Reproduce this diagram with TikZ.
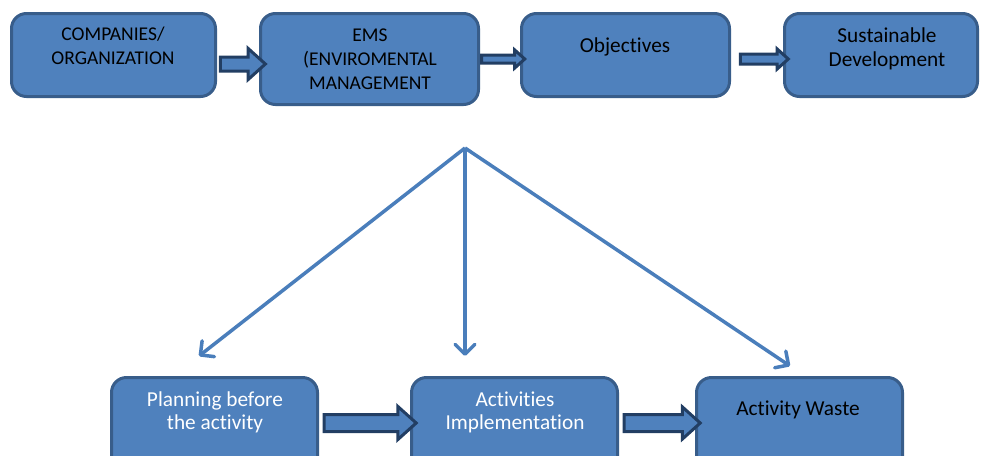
\documentclass[tikz,border=0pt]{standalone}
\usepackage{fontspec}
\setmainfont{Carlito}[RawFeature={-liga;-clig}]
\usetikzlibrary{shapes.arrows,arrows.meta}
\definecolor{boxfill}{HTML}{4F81BD}
\definecolor{boxline}{HTML}{385D8A}
\definecolor{arrline}{HTML}{223E63}
\definecolor{fanline}{HTML}{4A7EBB}
\tikzset{
  box/.style={draw=boxline, fill=boxfill, line width=3pt, rounded corners=15pt,
    minimum width=204pt, minimum height=83pt, inner sep=0pt},
  capstxt/.style={align=center, font=\fontsize{19.5}{24}\selectfont, inner sep=0pt},
  toptxt/.style={align=center, font=\fontsize{21.3}{24}\selectfont, inner sep=0pt},
  bottxt/.style={align=center, font=\fontsize{21.3}{23}\selectfont, inner sep=0pt},
  blockarrow/.style={single arrow, draw=arrline, fill=boxfill, line width=3pt,
    inner xsep=0pt, single arrow tip angle=84, outer sep=0pt},
  fan/.style={draw=fanline, line width=3.5pt,
    -{Straight Barb[length=10pt,width=20pt,line cap=round,line join=round]}},
}
\begin{document}
\begin{tikzpicture}[x=1pt,y=-1pt]
\useasboundingbox (0,0) rectangle (981,455);
\clip (0,0) rectangle (981,455);

% top row
\node[box] (b1) at (113.5,55) {};
\node[box, minimum width=218pt, minimum height=91pt] (b2) at (369.5,59) {};
\node[box, minimum width=208pt] (b3) at (625.5,55) {};
\node[box, minimum width=193pt] (b4) at (881,55) {};

\node[capstxt] (t1) at (113,46) {COMPANIES/\\ORGANIZATION};
\node[capstxt] (t2) at (370,59) {EMS\\(ENVIROMENTAL\\MANAGEMENT};
\node[toptxt] (t3) at (625,47) {Objectives};
\node[toptxt] (t4) at (887,49) {Sustainable\\Development};

% bottom row
\node[box, minimum width=206pt, minimum height=107pt] (b5) at (214.5,431) {};
\node[box, minimum width=206pt, minimum height=107pt] (b6) at (514.5,431) {};
\node[box, minimum width=206pt, minimum height=107pt] (b7) at (799.5,431) {};

\node[bottxt, text=white] (t5) at (215,412) {Planning before\\the activity};
\node[bottxt, text=white] (t6) at (515,412) {Activities\\Implementation};
\node[bottxt] (t7) at (798,410) {Activity Waste};

% block arrows between the boxes
\node[blockarrow, minimum height=45pt, inner ysep=5.5pt, single arrow head extend=8.5pt] (a12) at (239,64) {};
\node[blockarrow, minimum height=43pt, inner ysep=2.5pt, single arrow head extend=5pt] (a23) at (501,59) {};
\node[blockarrow, minimum height=48pt, inner ysep=3.5pt, single arrow head extend=5pt] (a34) at (761.5,59) {};
\node[blockarrow, minimum height=92pt, inner ysep=7pt, single arrow head extend=8pt] (a56) at (365.5,423) {};
\node[blockarrow, minimum height=76pt, inner ysep=7pt, single arrow head extend=7.5pt] (a67) at (657.5,423) {};

% fan of arrows below the EMS box
\coordinate (hub) at (465,148);
\coordinate (tipL) at (199,356);
\coordinate (tipM) at (465,356);
\coordinate (tipR) at (790,366);
\draw[fan] (hub) -- (tipL);
\draw[fan] (hub) -- (tipM);
\draw[fan] (hub) -- (tipR);
\end{tikzpicture}
\end{document}
